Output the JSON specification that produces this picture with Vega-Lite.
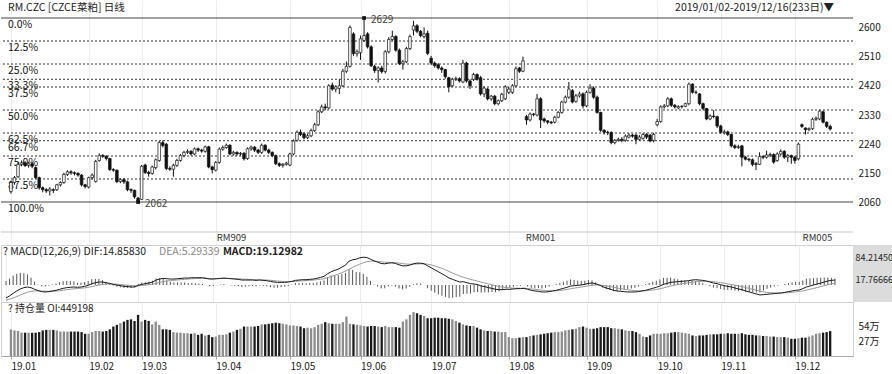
{
"$schema":"https://vega.github.io/schema/vega-lite/v6.json",
"padding":0,
"background":"white",
"spacing":0,
"bounds":"flush",
"config":{"font":"Noto Sans CJK SC","view":{"stroke":null},"axis":{"labelFont":"Noto Sans CJK SC","labelColor":"#222","labelFontSize":10}},
"datasets":{
"d":[
{"i":0,"o":2094,"h":2128,"l":2088,"c":2122,"oi":47.7,"dif":-39,"dea":-45,"m":12},
{"i":1,"o":2122,"h":2142,"l":2115,"c":2137,"oi":46,"dif":-33,"dea":-42.6,"m":19.2},
{"i":2,"o":2140,"h":2184,"l":2136,"c":2178,"oi":45,"dif":-25,"dea":-39.1,"m":28.2},
{"i":3,"o":2178,"h":2190,"l":2172,"c":2183,"oi":42,"dif":-18,"dea":-34.9,"m":33.8},
{"i":4,"o":2183,"h":2188,"l":2170,"c":2175,"oi":42,"dif":-12,"dea":-30.3,"m":36.6},
{"i":5,"o":2175,"h":2186,"l":2168,"c":2180,"oi":42,"dif":-8,"dea":-25.8,"m":35.6},
{"i":6,"o":2180,"h":2185,"l":2166,"c":2172,"oi":42,"dif":-6,"dea":-21.9,"m":31.8},
{"i":7,"o":2168,"h":2172,"l":2132,"c":2137,"oi":42,"dif":-8,"dea":-19.1,"m":22.2},
{"i":8,"o":2137,"h":2140,"l":2100,"c":2106,"oi":43,"dif":-13,"dea":-17.9,"m":9.8},
{"i":9,"o":2106,"h":2110,"l":2092,"c":2100,"oi":46,"dif":-17,"dea":-17.7,"m":1.4},
{"i":10,"o":2100,"h":2105,"l":2090,"c":2096,"oi":47,"dif":-20,"dea":-18.2,"m":-3.6},
{"i":11,"o":2096,"h":2108,"l":2082,"c":2102,"oi":47,"dif":-21,"dea":-18.8,"m":-4.4},
{"i":12,"o":2100,"h":2104,"l":2090,"c":2098,"oi":47,"dif":-20,"dea":-19,"m":-2},
{"i":13,"o":2100,"h":2118,"l":2096,"c":2115,"oi":46,"dif":-18,"dea":-18.8,"m":1.6},
{"i":14,"o":2115,"h":2126,"l":2110,"c":2122,"oi":44,"dif":-16,"dea":-18.2,"m":4.4},
{"i":15,"o":2122,"h":2152,"l":2118,"c":2147,"oi":44,"dif":-13,"dea":-17.2,"m":8.4},
{"i":16,"o":2147,"h":2160,"l":2142,"c":2155,"oi":44,"dif":-10,"dea":-15.8,"m":11.6},
{"i":17,"o":2155,"h":2160,"l":2146,"c":2152,"oi":44,"dif":-8,"dea":-14.2,"m":12.4},
{"i":18,"o":2152,"h":2156,"l":2144,"c":2150,"oi":44,"dif":-7,"dea":-12.8,"m":11.6},
{"i":19,"o":2150,"h":2154,"l":2140,"c":2145,"oi":44,"dif":-6,"dea":-11.4,"m":10.8},
{"i":20,"o":2145,"h":2148,"l":2110,"c":2115,"oi":43,"dif":-7,"dea":-10.5,"m":7},
{"i":21,"o":2115,"h":2118,"l":2104,"c":2110,"oi":40,"dif":-6,"dea":-9.6,"m":7.2},
{"i":22,"o":2108,"h":2140,"l":2104,"c":2137,"oi":40,"dif":-4,"dea":-8.5,"m":9},
{"i":23,"o":2137,"h":2150,"l":2132,"c":2145,"oi":43,"dif":-1,"dea":-7,"m":12},
{"i":24,"o":2125,"h":2192,"l":2122,"c":2187,"oi":45,"dif":4,"dea":-4.8,"m":17.6},
{"i":25,"o":2190,"h":2212,"l":2186,"c":2205,"oi":45,"dif":7,"dea":-2.4,"m":18.8},
{"i":26,"o":2205,"h":2210,"l":2198,"c":2203,"oi":44,"dif":9,"dea":-0.1,"m":18.2},
{"i":27,"o":2203,"h":2206,"l":2190,"c":2196,"oi":45,"dif":9,"dea":1.7,"m":14.6},
{"i":28,"o":2196,"h":2198,"l":2158,"c":2162,"oi":48,"dif":7,"dea":2.8,"m":8.4},
{"i":29,"o":2162,"h":2166,"l":2155,"c":2160,"oi":53,"dif":5,"dea":3.2,"m":3.6},
{"i":30,"o":2160,"h":2162,"l":2120,"c":2125,"oi":56,"dif":2,"dea":3,"m":-2},
{"i":31,"o":2125,"h":2135,"l":2120,"c":2131,"oi":59,"dif":0,"dea":2.4,"m":-4.8},
{"i":32,"o":2131,"h":2136,"l":2118,"c":2124,"oi":62,"dif":-2,"dea":1.5,"m":-7},
{"i":33,"o":2124,"h":2128,"l":2095,"c":2100,"oi":65,"dif":-4,"dea":0.4,"m":-8.8},
{"i":34,"o":2100,"h":2104,"l":2090,"c":2098,"oi":66,"dif":-5,"dea":-0.7,"m":-8.6},
{"i":35,"o":2098,"h":2100,"l":2072,"c":2078,"oi":63,"dif":-6,"dea":-1.8,"m":-8.4},
{"i":36,"o":2074,"h":2078,"l":2062,"c":2066,"oi":74,"dif":-6,"dea":-2.6,"m":-6.8},
{"i":37,"o":2070,"h":2176,"l":2068,"c":2172,"oi":62,"dif":-1,"dea":-2.3,"m":2.6},
{"i":38,"o":2176,"h":2180,"l":2148,"c":2153,"oi":65,"dif":2,"dea":-1.4,"m":6.8},
{"i":39,"o":2153,"h":2158,"l":2140,"c":2150,"oi":63,"dif":4,"dea":-0.3,"m":8.6},
{"i":40,"o":2150,"h":2174,"l":2146,"c":2170,"oi":57,"dif":6,"dea":1,"m":10},
{"i":41,"o":2168,"h":2196,"l":2162,"c":2192,"oi":62,"dif":9,"dea":2.6,"m":12.8},
{"i":42,"o":2190,"h":2250,"l":2186,"c":2245,"oi":56,"dif":15,"dea":5.1,"m":19.8},
{"i":43,"o":2245,"h":2252,"l":2230,"c":2236,"oi":48,"dif":18,"dea":7.7,"m":20.6},
{"i":44,"o":2240,"h":2244,"l":2160,"c":2165,"oi":48,"dif":20,"dea":10.2,"m":19.6},
{"i":45,"o":2165,"h":2172,"l":2158,"c":2163,"oi":47,"dif":19,"dea":12,"m":14},
{"i":46,"o":2163,"h":2180,"l":2140,"c":2175,"oi":43,"dif":18,"dea":13.2,"m":9.6},
{"i":47,"o":2175,"h":2195,"l":2170,"c":2190,"oi":42,"dif":18,"dea":14.2,"m":7.6},
{"i":48,"o":2190,"h":2210,"l":2186,"c":2205,"oi":42,"dif":19,"dea":15.2,"m":7.6},
{"i":49,"o":2205,"h":2220,"l":2200,"c":2215,"oi":41,"dif":20,"dea":16.2,"m":7.6},
{"i":50,"o":2215,"h":2224,"l":2210,"c":2218,"oi":41,"dif":21,"dea":17.2,"m":7.6},
{"i":51,"o":2218,"h":2222,"l":2205,"c":2210,"oi":40,"dif":21,"dea":18,"m":6},
{"i":52,"o":2210,"h":2230,"l":2206,"c":2226,"oi":41,"dif":22,"dea":18.8,"m":6.4},
{"i":53,"o":2226,"h":2230,"l":2216,"c":2222,"oi":38,"dif":22,"dea":19.4,"m":5.2},
{"i":54,"o":2222,"h":2226,"l":2214,"c":2219,"oi":40,"dif":22,"dea":19.9,"m":4.2},
{"i":55,"o":2218,"h":2236,"l":2214,"c":2232,"oi":37,"dif":22,"dea":20.3,"m":3.4},
{"i":56,"o":2232,"h":2235,"l":2166,"c":2170,"oi":38,"dif":20,"dea":20.2,"m":-0.4},
{"i":57,"o":2170,"h":2174,"l":2150,"c":2162,"oi":34,"dif":18,"dea":19.8,"m":-3.6},
{"i":58,"o":2160,"h":2188,"l":2156,"c":2184,"oi":35,"dif":18,"dea":19.4,"m":-2.8},
{"i":59,"o":2184,"h":2230,"l":2180,"c":2225,"oi":38,"dif":19,"dea":19.3,"m":-0.6},
{"i":60,"o":2225,"h":2236,"l":2220,"c":2230,"oi":38,"dif":20,"dea":19.4,"m":1.2},
{"i":61,"o":2230,"h":2242,"l":2226,"c":2237,"oi":39,"dif":21,"dea":19.7,"m":2.6},
{"i":62,"o":2237,"h":2240,"l":2206,"c":2210,"oi":42,"dif":20,"dea":19.8,"m":0.4},
{"i":63,"o":2210,"h":2220,"l":2205,"c":2215,"oi":44,"dif":19,"dea":19.6,"m":-1.2},
{"i":64,"o":2215,"h":2218,"l":2204,"c":2210,"oi":47,"dif":18,"dea":19.3,"m":-2.6},
{"i":65,"o":2210,"h":2216,"l":2205,"c":2212,"oi":49,"dif":17,"dea":18.8,"m":-3.6},
{"i":66,"o":2212,"h":2216,"l":2190,"c":2195,"oi":53,"dif":15,"dea":18,"m":-6},
{"i":67,"o":2196,"h":2230,"l":2192,"c":2226,"oi":53,"dif":15,"dea":17.4,"m":-4.8},
{"i":68,"o":2226,"h":2236,"l":2220,"c":2231,"oi":53,"dif":15,"dea":16.9,"m":-3.8},
{"i":69,"o":2231,"h":2234,"l":2216,"c":2222,"oi":53,"dif":15,"dea":16.5,"m":-3},
{"i":70,"o":2222,"h":2226,"l":2210,"c":2215,"oi":54,"dif":14,"dea":16,"m":-4},
{"i":71,"o":2215,"h":2242,"l":2210,"c":2237,"oi":57,"dif":15,"dea":15.8,"m":-1.6},
{"i":72,"o":2237,"h":2240,"l":2218,"c":2222,"oi":57,"dif":14,"dea":15.4,"m":-2.8},
{"i":73,"o":2222,"h":2226,"l":2210,"c":2215,"oi":58,"dif":13,"dea":14.9,"m":-3.8},
{"i":74,"o":2215,"h":2218,"l":2200,"c":2205,"oi":59,"dif":11,"dea":14.1,"m":-6.2},
{"i":75,"o":2205,"h":2208,"l":2176,"c":2180,"oi":60,"dif":9,"dea":13.1,"m":-8.2},
{"i":76,"o":2180,"h":2184,"l":2170,"c":2175,"oi":59,"dif":8,"dea":12.1,"m":-8.2},
{"i":77,"o":2175,"h":2182,"l":2168,"c":2178,"oi":58,"dif":8,"dea":11.3,"m":-6.6},
{"i":78,"o":2178,"h":2186,"l":2174,"c":2182,"oi":57,"dif":8,"dea":10.6,"m":-5.2},
{"i":79,"o":2176,"h":2214,"l":2172,"c":2210,"oi":55,"dif":9,"dea":10.3,"m":-2.6},
{"i":80,"o":2210,"h":2255,"l":2206,"c":2250,"oi":55,"dif":11,"dea":10.4,"m":1.2},
{"i":81,"o":2252,"h":2282,"l":2248,"c":2277,"oi":54,"dif":14,"dea":11.1,"m":5.8},
{"i":82,"o":2277,"h":2285,"l":2265,"c":2270,"oi":53,"dif":15,"dea":11.9,"m":6.2},
{"i":83,"o":2272,"h":2276,"l":2255,"c":2260,"oi":50,"dif":16,"dea":12.7,"m":6.6},
{"i":84,"o":2260,"h":2272,"l":2256,"c":2266,"oi":51,"dif":16,"dea":13.4,"m":5.2},
{"i":85,"o":2266,"h":2288,"l":2262,"c":2282,"oi":50,"dif":17,"dea":14.1,"m":5.8},
{"i":86,"o":2282,"h":2306,"l":2278,"c":2300,"oi":52,"dif":18,"dea":14.9,"m":6.2},
{"i":87,"o":2300,"h":2345,"l":2296,"c":2340,"oi":56,"dif":20,"dea":15.9,"m":8.2},
{"i":88,"o":2340,"h":2362,"l":2336,"c":2355,"oi":58,"dif":23,"dea":17.3,"m":11.4},
{"i":89,"o":2355,"h":2365,"l":2345,"c":2352,"oi":61,"dif":26,"dea":19,"m":14},
{"i":90,"o":2352,"h":2425,"l":2348,"c":2420,"oi":59,"dif":34,"dea":22,"m":24},
{"i":91,"o":2422,"h":2430,"l":2405,"c":2410,"oi":58,"dif":40,"dea":25.6,"m":28.8},
{"i":92,"o":2410,"h":2422,"l":2400,"c":2417,"oi":58,"dif":44,"dea":29.3,"m":29.4},
{"i":93,"o":2412,"h":2440,"l":2395,"c":2420,"oi":58,"dif":48,"dea":33,"m":30},
{"i":94,"o":2420,"h":2472,"l":2416,"c":2465,"oi":61,"dif":54,"dea":37.2,"m":33.6},
{"i":95,"o":2465,"h":2495,"l":2460,"c":2480,"oi":71,"dif":60,"dea":41.8,"m":36.4},
{"i":96,"o":2480,"h":2606,"l":2476,"c":2600,"oi":58,"dif":72,"dea":47.8,"m":48.4},
{"i":97,"o":2580,"h":2585,"l":2512,"c":2519,"oi":57,"dif":76,"dea":53.4,"m":45.2},
{"i":98,"o":2519,"h":2532,"l":2510,"c":2525,"oi":56,"dif":78,"dea":58.3,"m":39.4},
{"i":99,"o":2522,"h":2575,"l":2500,"c":2565,"oi":55,"dif":82,"dea":63,"m":38},
{"i":100,"o":2560,"h":2629,"l":2555,"c":2575,"oi":54,"dif":84,"dea":67.2,"m":33.6},
{"i":101,"o":2580,"h":2585,"l":2535,"c":2540,"oi":53,"dif":83,"dea":70.4,"m":25.2},
{"i":102,"o":2540,"h":2545,"l":2478,"c":2482,"oi":54,"dif":78,"dea":71.9,"m":12.2},
{"i":103,"o":2480,"h":2485,"l":2460,"c":2467,"oi":54,"dif":73,"dea":72.1,"m":1.8},
{"i":104,"o":2467,"h":2480,"l":2430,"c":2475,"oi":53,"dif":69,"dea":71.5,"m":-5},
{"i":105,"o":2475,"h":2482,"l":2458,"c":2464,"oi":52,"dif":65,"dea":70.2,"m":-10.4},
{"i":106,"o":2464,"h":2530,"l":2458,"c":2525,"oi":54,"dif":64,"dea":69,"m":-10},
{"i":107,"o":2525,"h":2570,"l":2520,"c":2563,"oi":52,"dif":66,"dea":68.4,"m":-4.8},
{"i":108,"o":2563,"h":2590,"l":2558,"c":2572,"oi":52,"dif":67,"dea":68.1,"m":-2.2},
{"i":109,"o":2572,"h":2576,"l":2525,"c":2530,"oi":52,"dif":65,"dea":67.5,"m":-5},
{"i":110,"o":2530,"h":2535,"l":2484,"c":2488,"oi":51,"dif":61,"dea":66.2,"m":-10.4},
{"i":111,"o":2488,"h":2500,"l":2470,"c":2494,"oi":62,"dif":58,"dea":64.6,"m":-13.2},
{"i":112,"o":2494,"h":2540,"l":2490,"c":2535,"oi":66,"dif":58,"dea":63.3,"m":-10.6},
{"i":113,"o":2535,"h":2578,"l":2530,"c":2572,"oi":74,"dif":60,"dea":62.6,"m":-5.2},
{"i":114,"o":2592,"h":2620,"l":2575,"c":2605,"oi":79,"dif":64,"dea":62.9,"m":2.2},
{"i":115,"o":2605,"h":2610,"l":2582,"c":2588,"oi":77,"dif":66,"dea":63.5,"m":5},
{"i":116,"o":2588,"h":2592,"l":2570,"c":2575,"oi":74,"dif":66,"dea":64,"m":4},
{"i":117,"o":2572,"h":2600,"l":2566,"c":2580,"oi":72,"dif":64,"dea":64,"m":0},
{"i":118,"o":2582,"h":2590,"l":2515,"c":2520,"oi":68,"dif":58,"dea":62.8,"m":-9.6},
{"i":119,"o":2505,"h":2512,"l":2484,"c":2490,"oi":68,"dif":52,"dea":60.6,"m":-17.2},
{"i":120,"o":2490,"h":2495,"l":2476,"c":2482,"oi":69,"dif":46,"dea":57.7,"m":-23.4},
{"i":121,"o":2485,"h":2490,"l":2470,"c":2475,"oi":69,"dif":40,"dea":54.2,"m":-28.4},
{"i":122,"o":2475,"h":2480,"l":2460,"c":2470,"oi":68,"dif":34,"dea":50.2,"m":-32.4},
{"i":123,"o":2470,"h":2472,"l":2442,"c":2448,"oi":68,"dif":28,"dea":45.8,"m":-35.6},
{"i":124,"o":2445,"h":2448,"l":2400,"c":2417,"oi":67,"dif":21,"dea":40.8,"m":-39.6},
{"i":125,"o":2420,"h":2445,"l":2416,"c":2440,"oi":66,"dif":17,"dea":36,"m":-38},
{"i":126,"o":2440,"h":2448,"l":2435,"c":2442,"oi":63,"dif":13,"dea":31.4,"m":-36.8},
{"i":127,"o":2442,"h":2446,"l":2430,"c":2435,"oi":60,"dif":9,"dea":26.9,"m":-35.8},
{"i":128,"o":2432,"h":2500,"l":2428,"c":2490,"oi":57,"dif":10,"dea":23.5,"m":-27},
{"i":129,"o":2490,"h":2494,"l":2430,"c":2435,"oi":55,"dif":7,"dea":20.2,"m":-26.4},
{"i":130,"o":2435,"h":2440,"l":2410,"c":2420,"oi":54,"dif":4,"dea":17,"m":-26},
{"i":131,"o":2440,"h":2460,"l":2435,"c":2455,"oi":54,"dif":3,"dea":14.2,"m":-22.4},
{"i":132,"o":2455,"h":2458,"l":2436,"c":2440,"oi":51,"dif":1,"dea":11.6,"m":-21.2},
{"i":133,"o":2445,"h":2450,"l":2390,"c":2395,"oi":48,"dif":-3,"dea":8.7,"m":-23.4},
{"i":134,"o":2395,"h":2418,"l":2385,"c":2413,"oi":46,"dif":-5,"dea":6,"m":-22},
{"i":135,"o":2410,"h":2414,"l":2375,"c":2380,"oi":45,"dif":-8,"dea":3.2,"m":-22.4},
{"i":136,"o":2380,"h":2392,"l":2374,"c":2388,"oi":45,"dif":-10,"dea":0.6,"m":-21.2},
{"i":137,"o":2388,"h":2392,"l":2360,"c":2365,"oi":44,"dif":-13,"dea":-2.1,"m":-21.8},
{"i":138,"o":2365,"h":2378,"l":2360,"c":2374,"oi":44,"dif":-14,"dea":-4.5,"m":-19},
{"i":139,"o":2374,"h":2398,"l":2370,"c":2394,"oi":43,"dif":-14,"dea":-6.4,"m":-15.2},
{"i":140,"o":2380,"h":2422,"l":2376,"c":2417,"oi":43,"dif":-13,"dea":-7.7,"m":-10.6},
{"i":141,"o":2400,"h":2416,"l":2395,"c":2410,"oi":34,"dif":-13,"dea":-8.8,"m":-8.4},
{"i":142,"o":2400,"h":2425,"l":2395,"c":2420,"oi":32,"dif":-12,"dea":-9.4,"m":-5.2},
{"i":143,"o":2420,"h":2480,"l":2416,"c":2473,"oi":32,"dif":-11,"dea":-9.7,"m":-2.6},
{"i":144,"o":2475,"h":2478,"l":2460,"c":2465,"oi":33,"dif":-11,"dea":-10,"m":-2},
{"i":145,"o":2465,"h":2510,"l":2462,"c":2497,"oi":34,"dif":-10,"dea":-10,"m":0},
{"i":146,"o":2325,"h":2330,"l":2300,"c":2315,"oi":34,"dif":-13,"dea":-10.6,"m":-4.8},
{"i":147,"o":2315,"h":2338,"l":2310,"c":2333,"oi":36,"dif":-16,"dea":-11.7,"m":-8.6},
{"i":148,"o":2333,"h":2336,"l":2326,"c":2332,"oi":37,"dif":-18,"dea":-13,"m":-10},
{"i":149,"o":2330,"h":2395,"l":2326,"c":2380,"oi":38,"dif":-19,"dea":-14.2,"m":-9.6},
{"i":150,"o":2380,"h":2385,"l":2290,"c":2315,"oi":39,"dif":-21,"dea":-15.6,"m":-10.8},
{"i":151,"o":2318,"h":2322,"l":2306,"c":2312,"oi":40,"dif":-21,"dea":-16.7,"m":-8.6},
{"i":152,"o":2312,"h":2314,"l":2302,"c":2308,"oi":41,"dif":-20,"dea":-17.4,"m":-5.2},
{"i":153,"o":2308,"h":2312,"l":2302,"c":2306,"oi":42,"dif":-18,"dea":-17.5,"m":-1},
{"i":154,"o":2308,"h":2328,"l":2304,"c":2323,"oi":43,"dif":-16,"dea":-17.2,"m":2.4},
{"i":155,"o":2323,"h":2342,"l":2320,"c":2338,"oi":43,"dif":-13,"dea":-16.4,"m":6.8},
{"i":156,"o":2338,"h":2374,"l":2334,"c":2370,"oi":44,"dif":-10,"dea":-15.1,"m":10.2},
{"i":157,"o":2370,"h":2390,"l":2366,"c":2385,"oi":46,"dif":-7,"dea":-13.5,"m":13},
{"i":158,"o":2385,"h":2432,"l":2380,"c":2410,"oi":47,"dif":-3,"dea":-11.4,"m":16.8},
{"i":159,"o":2405,"h":2410,"l":2366,"c":2370,"oi":48,"dif":-2,"dea":-9.5,"m":15},
{"i":160,"o":2372,"h":2395,"l":2368,"c":2389,"oi":49,"dif":-1,"dea":-7.8,"m":13.6},
{"i":161,"o":2389,"h":2402,"l":2384,"c":2395,"oi":52,"dif":0,"dea":-6.2,"m":12.4},
{"i":162,"o":2395,"h":2400,"l":2350,"c":2358,"oi":53,"dif":2,"dea":-4.6,"m":13.2},
{"i":163,"o":2358,"h":2405,"l":2354,"c":2400,"oi":51,"dif":5,"dea":-2.7,"m":15.4},
{"i":164,"o":2400,"h":2425,"l":2396,"c":2413,"oi":49,"dif":6,"dea":-1,"m":14},
{"i":165,"o":2413,"h":2418,"l":2380,"c":2385,"oi":49,"dif":4,"dea":0,"m":8},
{"i":166,"o":2385,"h":2390,"l":2334,"c":2338,"oi":50,"dif":0,"dea":0,"m":0},
{"i":167,"o":2338,"h":2340,"l":2278,"c":2283,"oi":52,"dif":-5,"dea":-1,"m":-8},
{"i":168,"o":2283,"h":2286,"l":2270,"c":2277,"oi":52,"dif":-9,"dea":-2.6,"m":-12.8},
{"i":169,"o":2277,"h":2282,"l":2268,"c":2276,"oi":52,"dif":-12,"dea":-4.5,"m":-15},
{"i":170,"o":2276,"h":2280,"l":2240,"c":2245,"oi":50,"dif":-16,"dea":-6.8,"m":-18.4},
{"i":171,"o":2245,"h":2256,"l":2240,"c":2252,"oi":50,"dif":-18,"dea":-9,"m":-18},
{"i":172,"o":2252,"h":2260,"l":2248,"c":2255,"oi":49,"dif":-19,"dea":-11,"m":-16},
{"i":173,"o":2255,"h":2262,"l":2246,"c":2252,"oi":48,"dif":-20,"dea":-12.8,"m":-14.4},
{"i":174,"o":2252,"h":2270,"l":2248,"c":2265,"oi":46,"dif":-21,"dea":-14.4,"m":-13.2},
{"i":175,"o":2262,"h":2274,"l":2258,"c":2268,"oi":45,"dif":-21,"dea":-15.7,"m":-10.6},
{"i":176,"o":2268,"h":2272,"l":2260,"c":2265,"oi":45,"dif":-21,"dea":-16.8,"m":-8.4},
{"i":177,"o":2268,"h":2272,"l":2240,"c":2255,"oi":43,"dif":-20,"dea":-17.4,"m":-5.2},
{"i":178,"o":2255,"h":2268,"l":2250,"c":2262,"oi":40,"dif":-18,"dea":-17.5,"m":-1},
{"i":179,"o":2258,"h":2274,"l":2254,"c":2270,"oi":35,"dif":-16,"dea":-17.2,"m":2.4},
{"i":180,"o":2270,"h":2274,"l":2256,"c":2262,"oi":34,"dif":-13,"dea":-16.4,"m":6.8},
{"i":181,"o":2268,"h":2272,"l":2246,"c":2250,"oi":37,"dif":-10,"dea":-15.1,"m":10.2},
{"i":182,"o":2252,"h":2275,"l":2246,"c":2270,"oi":40,"dif":-7,"dea":-13.5,"m":13},
{"i":183,"o":2300,"h":2318,"l":2295,"c":2310,"oi":40,"dif":-3,"dea":-11.4,"m":16.8},
{"i":184,"o":2310,"h":2360,"l":2306,"c":2355,"oi":40,"dif":2,"dea":-8.7,"m":21.4},
{"i":185,"o":2355,"h":2364,"l":2350,"c":2358,"oi":41,"dif":5,"dea":-6,"m":22},
{"i":186,"o":2358,"h":2385,"l":2354,"c":2380,"oi":41,"dif":8,"dea":-3.2,"m":22.4},
{"i":187,"o":2380,"h":2384,"l":2355,"c":2360,"oi":42,"dif":9,"dea":-0.8,"m":19.6},
{"i":188,"o":2360,"h":2364,"l":2350,"c":2355,"oi":43,"dif":10,"dea":1.4,"m":17.2},
{"i":189,"o":2352,"h":2360,"l":2348,"c":2356,"oi":43,"dif":11,"dea":3.3,"m":15.4},
{"i":190,"o":2356,"h":2360,"l":2350,"c":2357,"oi":42,"dif":12,"dea":5,"m":14},
{"i":191,"o":2357,"h":2368,"l":2354,"c":2365,"oi":41,"dif":13,"dea":6.6,"m":12.8},
{"i":192,"o":2365,"h":2430,"l":2360,"c":2425,"oi":40,"dif":15,"dea":8.3,"m":13.4},
{"i":193,"o":2425,"h":2428,"l":2396,"c":2400,"oi":37,"dif":16,"dea":9.8,"m":12.4},
{"i":194,"o":2400,"h":2406,"l":2394,"c":2400,"oi":36,"dif":15,"dea":10.8,"m":8.4},
{"i":195,"o":2395,"h":2398,"l":2360,"c":2365,"oi":37,"dif":14,"dea":11.4,"m":5.2},
{"i":196,"o":2365,"h":2368,"l":2345,"c":2350,"oi":37,"dif":12,"dea":11.5,"m":1},
{"i":197,"o":2350,"h":2352,"l":2314,"c":2318,"oi":38,"dif":9,"dea":11,"m":-4},
{"i":198,"o":2318,"h":2332,"l":2314,"c":2327,"oi":39,"dif":6,"dea":10,"m":-8},
{"i":199,"o":2327,"h":2345,"l":2320,"c":2325,"oi":39,"dif":4,"dea":8.8,"m":-9.6},
{"i":200,"o":2325,"h":2328,"l":2290,"c":2296,"oi":39,"dif":1,"dea":7.2,"m":-12.4},
{"i":201,"o":2296,"h":2300,"l":2272,"c":2277,"oi":40,"dif":-2,"dea":5.4,"m":-14.8},
{"i":202,"o":2275,"h":2285,"l":2270,"c":2278,"oi":40,"dif":-4,"dea":3.5,"m":-15},
{"i":203,"o":2278,"h":2282,"l":2265,"c":2270,"oi":41,"dif":-6,"dea":1.6,"m":-15.2},
{"i":204,"o":2270,"h":2272,"l":2230,"c":2235,"oi":40,"dif":-9,"dea":-0.5,"m":-17},
{"i":205,"o":2235,"h":2240,"l":2225,"c":2230,"oi":40,"dif":-12,"dea":-2.8,"m":-18.4},
{"i":206,"o":2230,"h":2238,"l":2226,"c":2232,"oi":40,"dif":-14,"dea":-5,"m":-18},
{"i":207,"o":2235,"h":2238,"l":2172,"c":2200,"oi":41,"dif":-18,"dea":-7.6,"m":-20.8},
{"i":208,"o":2200,"h":2204,"l":2190,"c":2194,"oi":39,"dif":-21,"dea":-10.3,"m":-21.4},
{"i":209,"o":2194,"h":2198,"l":2186,"c":2192,"oi":38,"dif":-24,"dea":-13,"m":-22},
{"i":210,"o":2192,"h":2196,"l":2172,"c":2178,"oi":38,"dif":-27,"dea":-15.8,"m":-22.4},
{"i":211,"o":2180,"h":2185,"l":2160,"c":2178,"oi":37,"dif":-30,"dea":-18.6,"m":-22.8},
{"i":212,"o":2178,"h":2215,"l":2176,"c":2202,"oi":37,"dif":-29,"dea":-20.7,"m":-16.6},
{"i":213,"o":2202,"h":2206,"l":2194,"c":2200,"oi":36,"dif":-28,"dea":-22.2,"m":-11.6},
{"i":214,"o":2200,"h":2220,"l":2196,"c":2207,"oi":36,"dif":-27,"dea":-23.2,"m":-7.6},
{"i":215,"o":2207,"h":2214,"l":2200,"c":2208,"oi":35,"dif":-26,"dea":-23.8,"m":-4.4},
{"i":216,"o":2208,"h":2212,"l":2180,"c":2185,"oi":35,"dif":-25,"dea":-24,"m":-2},
{"i":217,"o":2190,"h":2215,"l":2186,"c":2210,"oi":34,"dif":-24,"dea":-24,"m":0},
{"i":218,"o":2210,"h":2224,"l":2206,"c":2218,"oi":34,"dif":-22,"dea":-23.6,"m":3.2},
{"i":219,"o":2218,"h":2222,"l":2195,"c":2200,"oi":34,"dif":-20,"dea":-22.9,"m":5.8},
{"i":220,"o":2200,"h":2210,"l":2185,"c":2205,"oi":33,"dif":-18,"dea":-21.9,"m":7.8},
{"i":221,"o":2205,"h":2208,"l":2180,"c":2200,"oi":31,"dif":-16,"dea":-20.7,"m":9.4},
{"i":222,"o":2200,"h":2204,"l":2180,"c":2190,"oi":31,"dif":-15,"dea":-19.6,"m":9.2},
{"i":223,"o":2195,"h":2245,"l":2190,"c":2240,"oi":32,"dif":-11,"dea":-17.9,"m":13.8},
{"i":224,"o":2300,"h":2304,"l":2290,"c":2295,"oi":33,"dif":-6,"dea":-15.5,"m":19},
{"i":225,"o":2290,"h":2292,"l":2270,"c":2285,"oi":33,"dif":-3,"dea":-13,"m":20},
{"i":226,"o":2285,"h":2292,"l":2280,"c":2288,"oi":35,"dif":0,"dea":-10.4,"m":20.8},
{"i":227,"o":2288,"h":2322,"l":2284,"c":2317,"oi":37,"dif":3,"dea":-7.7,"m":21.4},
{"i":228,"o":2317,"h":2325,"l":2312,"c":2320,"oi":40,"dif":6,"dea":-5,"m":22},
{"i":229,"o":2318,"h":2346,"l":2314,"c":2342,"oi":41,"dif":9,"dea":-2.2,"m":22.4},
{"i":230,"o":2340,"h":2344,"l":2304,"c":2308,"oi":42,"dif":12,"dea":0.6,"m":22.8},
{"i":231,"o":2308,"h":2310,"l":2290,"c":2295,"oi":43,"dif":14,"dea":3.3,"m":21.4},
{"i":232,"o":2295,"h":2300,"l":2282,"c":2287,"oi":44.92,"dif":14.86,"dea":5.29,"m":19.13}
],
"fib":[
{"p":"0.0%","v":2629},{"p":"12.5%","v":2558.1},{"p":"25.0%","v":2487.25},{"p":"33.3%","v":2440.2},{"p":"37.5%","v":2416.4},{"p":"50.0%","v":2345.5},{"p":"62.5%","v":2274.6},{"p":"66.7%","v":2250.8},{"p":"75.0%","v":2203.75},{"p":"87.5%","v":2132.9},{"p":"100.0%","v":2062}
],
"rm":[{"i":58.3,"t":"RM909"},{"i":145.8,"t":"RM001"},{"i":224.2,"t":"RM005"}],
"ext":[{"i":100,"v":2629,"t":"2629"},{"i":36,"v":2062,"t":"2062"}]
},
"vconcat":[
{
"width":852,"height":245,
"data":{"name":"d"},
"layer":[
{"mark":{"type":"rule","color":"#111","strokeWidth":1},
 "encoding":{"x":{"field":"i","type":"quantitative","scale":{"domain":[-1.4,237.05],"nice":false,"zero":false},
   "axis":{"values":[0,22,37,58,79,99,119,141,163,183,201,222],"grid":true,"gridColor":"#ececec","labels":false,"ticks":false,"domain":false,"title":null}},
  "y":{"field":"l","type":"quantitative","scale":{"domain":[1929.5,2684.47],"nice":false,"zero":false},
   "axis":{"orient":"right","values":[2060,2150,2240,2330,2420,2510,2600],"format":"d","grid":false,"ticks":false,"domain":false,"title":null,"labelPadding":5,"labelFontSize":10}},
  "y2":{"field":"h"}}},
{"data":{"name":"fib"},"transform":[{"filter":"datum.v != 2629 && datum.v != 2062"}],
 "mark":{"type":"rule","color":"#333","strokeWidth":1,"strokeDash":[2,2]},
 "encoding":{"y":{"field":"v","type":"quantitative","scale":{"domain":[1929.5,2684.47],"nice":false,"zero":false}}}},
{"data":{"name":"fib"},"transform":[{"filter":"datum.v == 2629 || datum.v == 2062"}],
 "mark":{"type":"rule","color":"#444","strokeWidth":1.2},
 "encoding":{"y":{"field":"v","type":"quantitative","scale":{"domain":[1929.5,2684.47],"nice":false,"zero":false}}}},
{"data":{"values":[{}]},
 "mark":{"type":"rule","color":"#c8c8c8","strokeWidth":1},
 "encoding":{"y":{"datum":1969.6,"type":"quantitative","scale":{"domain":[1929.5,2684.47],"nice":false,"zero":false}}}},
{"data":{"name":"fib"},
 "mark":{"type":"text","align":"left","baseline":"top","dx":2,"dy":2,"fontSize":10.5,"color":"#111"},
 "encoding":{"x":{"datum":-1.4,"type":"quantitative","scale":{"domain":[-1.4,237.05],"nice":false,"zero":false}},
  "y":{"field":"v","type":"quantitative","scale":{"domain":[1929.5,2684.47],"nice":false,"zero":false}},
  "text":{"field":"p"}}},
{"mark":{"type":"bar","width":2.6,"stroke":"#111","strokeWidth":0.7},
 "encoding":{"x":{"field":"i","type":"quantitative","scale":{"domain":[-1.4,237.05],"nice":false,"zero":false}},
  "y":{"field":"o","type":"quantitative","scale":{"domain":[1929.5,2684.47],"nice":false,"zero":false}},
  "y2":{"field":"c"},
  "fill":{"condition":{"test":"datum.c >= datum.o","value":"#ffffff"},"value":"#111111"}}},
{"data":{"name":"ext"},
 "mark":{"type":"square","size":14,"color":"#111","opacity":1},
 "encoding":{"x":{"field":"i","type":"quantitative","scale":{"domain":[-1.4,237.05],"nice":false,"zero":false}},
  "y":{"field":"v","type":"quantitative","scale":{"domain":[1929.5,2684.47],"nice":false,"zero":false}}}},
{"data":{"name":"ext"},
 "mark":{"type":"text","align":"left","baseline":"middle","dx":7,"dy":2,"fontSize":10,"color":"#444"},
 "encoding":{"x":{"field":"i","type":"quantitative","scale":{"domain":[-1.4,237.05],"nice":false,"zero":false}},
  "y":{"field":"v","type":"quantitative","scale":{"domain":[1929.5,2684.47],"nice":false,"zero":false}},
  "text":{"field":"t"}}},
{"data":{"values":[{}]},
 "mark":{"type":"text","align":"left","baseline":"middle","dx":2,"fontSize":10.5,"color":"#222","text":"RM.CZC [CZCE菜粕] 日线"},
 "encoding":{"x":{"datum":-1.4,"type":"quantitative","scale":{"domain":[-1.4,237.05],"nice":false,"zero":false}},
  "y":{"datum":2661,"type":"quantitative","scale":{"domain":[1929.5,2684.47],"nice":false,"zero":false}}}},
{"data":{"values":[{}]},
 "mark":{"type":"text","align":"right","baseline":"middle","fontSize":10.5,"color":"#222","text":"2019/01/02-2019/12/16(233日)▼"},
 "encoding":{"x":{"datum":233.1,"type":"quantitative","scale":{"domain":[-1.4,237.05],"nice":false,"zero":false}},
  "y":{"datum":2661,"type":"quantitative","scale":{"domain":[1929.5,2684.47],"nice":false,"zero":false}}}},
{"data":{"name":"rm"},
 "mark":{"type":"text","align":"left","baseline":"middle","fontSize":9.5,"color":"#333"},
 "encoding":{"x":{"field":"i","type":"quantitative","scale":{"domain":[-1.4,237.05],"nice":false,"zero":false}},
  "y":{"datum":1951.1,"type":"quantitative","scale":{"domain":[1929.5,2684.47],"nice":false,"zero":false}},
  "text":{"field":"t"}}}
]
},
{
"width":852,"height":57,
"view":{"stroke":"#d0d0d0"},
"data":{"name":"d"},
"layer":[
{"mark":{"type":"rule","color":"#555","strokeWidth":1},
 "encoding":{"x":{"field":"i","type":"quantitative","scale":{"domain":[-1.4,237.05],"nice":false,"zero":false},
   "axis":{"values":[0,22,37,58,79,99,119,141,163,183,201,222],"grid":true,"gridColor":"#ececec","labels":false,"ticks":false,"domain":false,"title":null}},
  "y":{"field":"m","type":"quantitative","scale":{"domain":[-51.3,120.8],"nice":false,"zero":false},
   "axis":{"orient":"right","values":[17.76666,84.2145],"format":".5f","grid":false,"ticks":false,"domain":false,"title":null,"labelPadding":2,"labelFontSize":9,"zindex":1}},
  "y2":{"datum":0}}},
{"data":{"values":[{}]},
 "mark":{"type":"rect","color":"#dcdcdc"},
 "encoding":{"x":{"datum":237.05,"type":"quantitative","scale":{"domain":[-1.4,237.05],"nice":false,"zero":false}},
  "x2":{"datum":248.3},
  "y":{"datum":120.8,"type":"quantitative","scale":{"domain":[-51.3,120.8],"nice":false,"zero":false}},
  "y2":{"datum":-51.3}}},
{"mark":{"type":"line","color":"#9a9a9a","strokeWidth":1},
 "encoding":{"x":{"field":"i","type":"quantitative","scale":{"domain":[-1.4,237.05],"nice":false,"zero":false}},
  "y":{"field":"dea","type":"quantitative","scale":{"domain":[-51.3,120.8],"nice":false,"zero":false}}}},
{"mark":{"type":"line","color":"#1a1a1a","strokeWidth":1},
 "encoding":{"x":{"field":"i","type":"quantitative","scale":{"domain":[-1.4,237.05],"nice":false,"zero":false}},
  "y":{"field":"dif","type":"quantitative","scale":{"domain":[-51.3,120.8],"nice":false,"zero":false}}}},
{"data":{"values":[{}]},
 "mark":{"type":"text","align":"left","baseline":"middle","dx":2,"fontSize":10.5,"color":"#222","text":"? MACD(12,26,9) DIF:14.85830"},
 "encoding":{"x":{"datum":-1.4,"type":"quantitative","scale":{"domain":[-1.4,237.05],"nice":false,"zero":false}},
  "y":{"datum":99.7,"type":"quantitative","scale":{"domain":[-51.3,120.8],"nice":false,"zero":false}}}},
{"data":{"values":[{}]},
 "mark":{"type":"text","align":"left","baseline":"middle","fontSize":10.5,"color":"#8a8a8a","text":"DEA:5.29339"},
 "encoding":{"x":{"datum":42.8,"type":"quantitative","scale":{"domain":[-1.4,237.05],"nice":false,"zero":false}},
  "y":{"datum":99.7,"type":"quantitative","scale":{"domain":[-51.3,120.8],"nice":false,"zero":false}}}},
{"data":{"values":[{}]},
 "mark":{"type":"text","align":"left","baseline":"middle","fontSize":10.5,"fontWeight":"bold","color":"#222","text":"MACD:19.12982"},
 "encoding":{"x":{"datum":60.7,"type":"quantitative","scale":{"domain":[-1.4,237.05],"nice":false,"zero":false}},
  "y":{"datum":99.7,"type":"quantitative","scale":{"domain":[-51.3,120.8],"nice":false,"zero":false}}}}
]
},
{
"width":852,"height":54,
"view":{"stroke":"#d0d0d0"},
"data":{"name":"d"},
"layer":[
{"mark":{"type":"bar","width":2.3},
 "encoding":{"x":{"field":"i","type":"quantitative","scale":{"domain":[-1.4,237.05],"nice":false,"zero":false},
   "axis":{"values":[0,22,37,58,79,99,119,141,163,183,201,222],"grid":true,"gridColor":"#ececec","labels":true,"ticks":true,"tickSize":3,"tickColor":"#aaa","domain":true,"domainColor":"#aaa","title":null,"labelAlign":"left","labelPadding":2,"labelFontSize":10,"labelOverlap":false,"labelFlush":false,
   "labelExpr":"['19.01','19.02','19.03','19.04','19.05','19.06','19.07','19.08','19.09','19.10','19.11','19.12'][indexof([0,22,37,58,79,99,119,141,163,183,201,222], datum.value)]"}},
  "y":{"field":"oi","type":"quantitative","scale":{"domain":[0,97.2],"nice":false,"zero":false},
   "axis":{"orient":"right","values":[27,54],"labelExpr":"datum.value + '万'","grid":false,"ticks":false,"domain":false,"title":null,"labelPadding":5,"labelFontSize":10}},
  "color":{"condition":{"test":"datum.c >= datum.o","value":"#8c8c8c"},"value":"#1a1a1a"}}},
{"data":{"values":[{}]},
 "mark":{"type":"text","align":"left","baseline":"middle","dx":2,"fontSize":10,"color":"#222","text":"? 持仓量 OI:449198"},
 "encoding":{"x":{"datum":-1.4,"type":"quantitative","scale":{"domain":[-1.4,237.05],"nice":false,"zero":false}},
  "y":{"datum":84.6,"type":"quantitative","scale":{"domain":[0,97.2],"nice":false,"zero":false}}}}
]
}
]
}
